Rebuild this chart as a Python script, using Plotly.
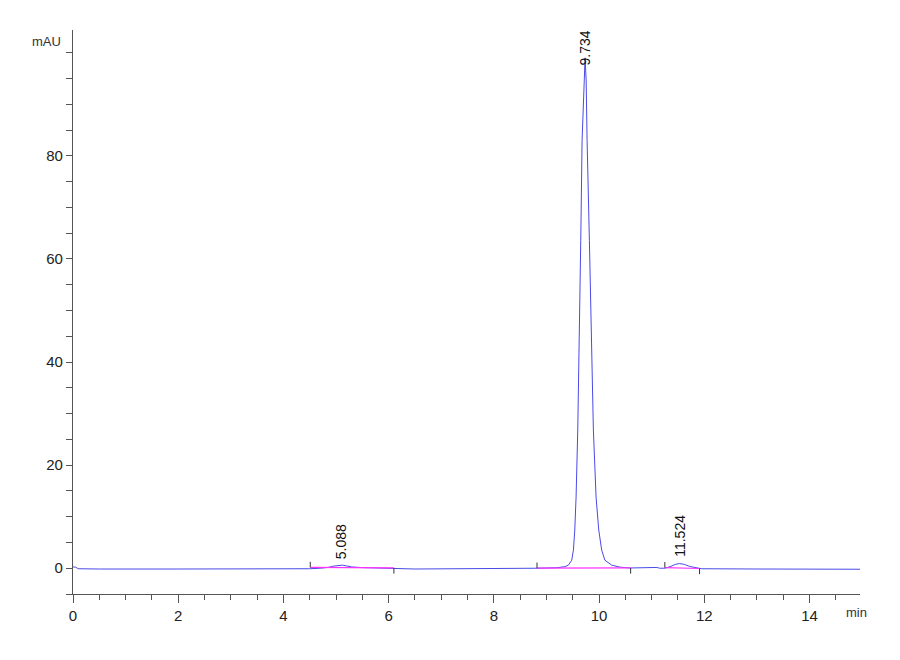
import plotly.graph_objects as go

# chromatogram trace (min, mAU)
time_min = [0.00, 0.05, 0.10, 0.50, 2.00, 4.00, 4.50, 4.70, 4.85, 4.95, 5.05, 5.12, 5.20, 5.30,
            5.50, 5.80, 6.05, 6.10, 6.50, 8.80, 9.20, 9.35, 9.417, 9.48, 9.512, 9.538, 9.563,
            9.595, 9.628, 9.652, 9.677, 9.71, 9.734, 9.755, 9.772, 9.816, 9.85, 9.892, 9.943,
            9.994, 10.05, 10.11, 10.24, 10.40, 10.60, 10.75, 10.80, 11.10, 11.15, 11.25, 11.35,
            11.45, 11.53, 11.62, 11.72, 11.85, 11.95, 13.00, 15.00]
signal_mau = [0.25, 0.20, -0.10, -0.15, -0.15, -0.15, -0.10, 0.00, 0.15, 0.40, 0.60, 0.60, 0.45, 0.25,
              0.12, 0.08, 0.05, -0.10, -0.15, 0.00, 0.10, 0.30, 0.60, 1.55, 3.5, 7.4, 13.8,
              26.8, 44.2, 63.6, 83.0, 94.5, 99.0, 94.5, 83.0, 63.6, 44.2, 26.8, 13.8,
              7.4, 3.5, 1.55, 0.60, 0.20, 0.05, 0.05, 0.15, 0.15, 0.00, 0.00, 0.30,
              0.75, 0.90, 0.75, 0.35, 0.05, -0.10, -0.15, -0.20]

# integration baselines: start/end time and level
base_start = [4.51, 8.82, 11.25]
base_end = [6.10, 10.60, 11.91]
base_start_y = [0.15, 0.00, 0.10]
base_end_y = [0.05, 0.05, -0.05]

# peak labels
peak_rt = [5.088, 9.734, 11.524]
peak_height = [0.6, 99.0, 0.9]
peak_text = ["5.088", "9.734", "11.524"]

y_labels = [0, 20, 40, 60, 80]
x_labels = [0, 2, 4, 6, 8, 10, 12, 14]

FONT = "Liberation Sans, Arial"
AXIS = "#555555"

fig = go.Figure()

fig.add_trace(go.Scatter(x=time_min, y=signal_mau, mode="lines",
                         line=dict(color="#4a4ae6", width=1), hoverinfo="x+y"))

# pink baselines
bx, by = [], []
for s, e, sy, ey in zip(base_start, base_end, base_start_y, base_end_y):
    bx += [s, e, None]
    by += [sy, ey, None]
fig.add_trace(go.Scatter(x=bx, y=by, mode="lines", line=dict(color="#ff33ff", width=1.2),
                         hoverinfo="skip"))

# event marks: start goes up, end goes down
mx, my = [], []
for s, e, sy, ey in zip(base_start, base_end, base_start_y, base_end_y):
    mx += [s, s, None, e, e, None]
    my += [sy, sy + 1.1, None, ey, ey - 1.1, None]
fig.add_trace(go.Scatter(x=mx, y=my, mode="lines", line=dict(color="#333333", width=1),
                         hoverinfo="skip"))

shifts = [4, -10, 5]
for rt, h, txt, sh in zip(peak_rt, peak_height, peak_text, shifts):
    fig.add_annotation(x=rt, y=h, text=txt, textangle=-90, showarrow=False,
                       yanchor="bottom", yshift=sh,
                       font=dict(family=FONT, size=14, color="#111111"))

fig.add_annotation(xref="paper", yref="paper", x=-0.013, y=1.0, xanchor="right", yanchor="top",
                   yshift=-2, text="mAU", showarrow=False,
                   font=dict(family=FONT, size=13, color="#333333"))
fig.add_annotation(xref="paper", yref="paper", x=0.98, y=0, xanchor="left", yanchor="top",
                   yshift=-9, text="min", showarrow=False,
                   font=dict(family=FONT, size=13, color="#333333"))

fig.update_xaxes(range=[0, 14.96], showline=True, linecolor=AXIS, linewidth=1.2,
                 showgrid=False, zeroline=False, ticks="outside", tickcolor=AXIS,
                 ticklen=8, tickwidth=1, tickvals=x_labels,
                 tickfont=dict(family=FONT, size=15, color="#222222"),
                 minor=dict(dtick=0.5, ticks="outside", ticklen=5, tickcolor=AXIS, showgrid=False))
fig.update_yaxes(range=[-5, 104.4], showline=True, linecolor=AXIS, linewidth=1.2,
                 showgrid=False, zeroline=False, ticks="outside", tickcolor=AXIS,
                 ticklen=6, tickwidth=1, tickvals=y_labels,
                 tickfont=dict(family=FONT, size=15, color="#222222"),
                 minor=dict(dtick=5, tick0=0, ticks="outside", ticklen=6, tickcolor=AXIS,
                            showgrid=False))

# page body keeps an 8px margin, so the margins here are offset by that
fig.update_layout(width=900, height=660, showlegend=False,
                  paper_bgcolor="white", plot_bgcolor="white",
                  margin=dict(l=65, r=48, t=22, b=74))

fig.write_html("out.html")
